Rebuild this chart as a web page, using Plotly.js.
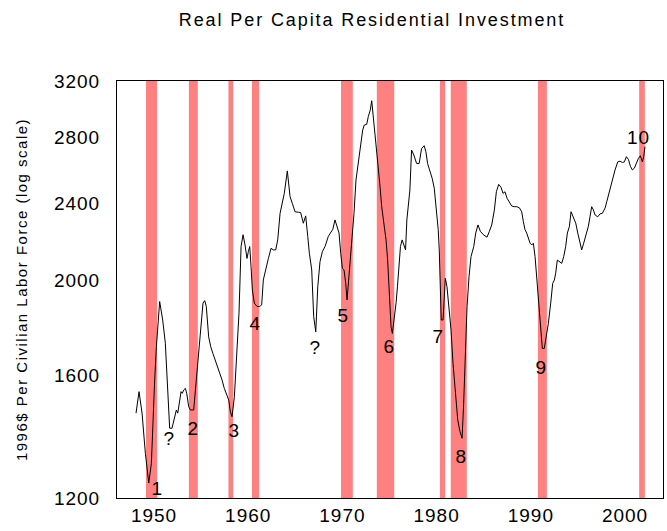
<!DOCTYPE html>
<html>
<head>
<meta charset="utf-8">
<script src="https://cdn.plot.ly/plotly-3.0.1.min.js"></script>
<style>
  body { margin: 0; background: #fff; }
  #graph { width: 667px; height: 531px; }
  /* the original uses loosely spaced type */
  #graph .gtitle { letter-spacing: 1.9px; }
  #graph .ytitle { letter-spacing: 1.5px; }
  #graph .xtick text, #graph .ytick text { letter-spacing: 1px; }
  #graph .annotation-text { letter-spacing: 1px; }
</style>
</head>
<body>
<div id="graph"></div>
<script>
// real per capita residential investment, 1996$
var years = [
  1948.09, 1948.41, 1948.73, 1949.08, 1949.44, 1949.72, 1950.07, 1950.25, 1950.60, 1950.92,
  1951.20, 1951.45, 1951.66, 1951.91, 1952.16, 1952.37, 1952.52, 1952.65, 1952.87, 1953.00,
  1953.15, 1953.33, 1953.47, 1953.68, 1953.86, 1954.21, 1954.50, 1954.74, 1954.99, 1955.20,
  1955.38, 1955.55, 1955.80, 1956.02, 1956.26, 1956.51, 1956.86, 1957.22, 1957.46, 1957.75,
  1957.93, 1958.10, 1958.28, 1958.53, 1958.81, 1959.02, 1959.24, 1959.45, 1959.66, 1959.87,
  1960.01, 1960.16, 1960.30, 1960.44, 1960.65, 1960.93, 1961.22, 1961.43, 1961.60, 1961.85,
  1962.14, 1962.42, 1962.66, 1962.92, 1963.13, 1963.38, 1963.55, 1963.83, 1964.15, 1964.44,
  1964.68, 1964.97, 1965.32, 1965.57, 1965.85, 1966.10, 1966.32, 1966.49, 1966.74, 1966.95,
  1967.17, 1967.38, 1967.62, 1967.87, 1968.15, 1968.50, 1968.72, 1968.97, 1969.21, 1969.43,
  1969.64, 1969.82, 1969.99, 1970.17, 1970.35, 1970.49, 1970.73, 1970.99, 1971.23, 1971.44,
  1971.62, 1971.83, 1971.97, 1972.15, 1972.32, 1972.58, 1972.75, 1972.96, 1973.11, 1973.32,
  1973.53, 1973.75, 1973.96, 1974.17, 1974.38, 1974.63, 1974.80, 1974.98, 1975.16, 1975.30,
  1975.51, 1975.70, 1975.84, 1975.98, 1976.16, 1976.34, 1976.52, 1976.70, 1976.84, 1976.98,
  1977.16, 1977.34, 1977.58, 1977.87, 1978.15, 1978.40, 1978.68, 1978.86, 1979.04, 1979.25,
  1979.53, 1979.75, 1979.96, 1980.17, 1980.28, 1980.39, 1980.49, 1980.68, 1980.82, 1980.92,
  1981.10, 1981.32, 1981.53, 1981.74, 1981.99, 1982.24, 1982.48, 1982.70, 1982.87, 1983.05,
  1983.23, 1983.44, 1983.65, 1983.94, 1984.15, 1984.39, 1984.64, 1984.96, 1985.35, 1985.60,
  1985.85, 1986.13, 1986.34, 1986.59, 1986.84, 1987.05, 1987.26, 1987.47, 1987.69, 1987.97,
  1988.22, 1988.50, 1988.78, 1989.03, 1989.21, 1989.38, 1989.56, 1989.74, 1989.92, 1990.10,
  1990.27, 1990.45, 1990.66, 1990.87, 1991.08, 1991.22, 1991.43, 1991.65, 1991.86, 1992.11,
  1992.32, 1992.50, 1992.64, 1992.81, 1993.02, 1993.28, 1993.49, 1993.70, 1993.88, 1994.09,
  1994.27, 1994.51, 1994.77, 1994.98, 1995.22, 1995.40, 1995.61, 1995.86, 1996.10, 1996.28,
  1996.46, 1996.64, 1996.82, 1997.10, 1997.35, 1997.59, 1997.88, 1998.06, 1998.23, 1998.48,
  1998.70, 1998.94, 1999.23, 1999.47, 1999.72, 1999.93, 2000.14, 2000.36, 2000.57, 2000.78,
  2000.99, 2001.20, 2001.42, 2001.63, 2001.84, 2001.98, 2002.12
];
var invest = [
  1465, 1541, 1465, 1333, 1243, 1302, 1584, 1713, 1905, 1824,
  1727, 1523, 1414, 1414, 1453, 1476, 1465, 1488, 1541, 1535,
  1547, 1553, 1535, 1488, 1476, 1476, 1584, 1685, 1810, 1898,
  1909, 1883, 1753, 1713, 1685, 1660, 1621, 1584, 1553, 1523,
  1511, 1470, 1453, 1523, 1685, 1853, 2168, 2229, 2176, 2108,
  2142, 2168, 2067, 1957, 1898, 1883, 1883, 1890, 2004, 2060,
  2108, 2159, 2151, 2151, 2202, 2344, 2390, 2457, 2590, 2438,
  2400, 2353, 2350, 2348, 2290, 2330, 2220, 2134, 2052, 1838,
  1774, 1972, 2092, 2142, 2168, 2220, 2238, 2256, 2308, 2272,
  2238, 2134, 2060, 2052, 1988, 1912, 2036, 2202, 2344, 2535,
  2618, 2689, 2763, 2851, 2885, 2890, 2944, 2990, 3055, 2919,
  2775, 2657, 2516, 2381, 2308, 2202, 2100, 1940, 1795, 1767,
  1824, 1900, 1972, 2052, 2168, 2202, 2176, 2151, 2308, 2400,
  2476, 2720, 2689, 2636, 2636, 2730, 2748, 2710, 2636, 2596,
  2545, 2486, 2381, 2256, 2151, 2004, 1824, 1824, 1927, 2012,
  1972, 1883, 1781, 1647, 1523, 1442, 1403, 1381, 1499, 1713,
  1883, 2020, 2117, 2168, 2238, 2281, 2247, 2229, 2216, 2247,
  2281, 2363, 2466, 2509, 2492, 2457, 2466, 2429, 2409, 2385,
  2381, 2381, 2375, 2353, 2298, 2256, 2238, 2206, 2185, 2176,
  2185, 2117, 1988, 1868, 1753, 1706, 1706, 1753, 1810, 1898,
  1988, 2004, 2036, 2100, 2092, 2084, 2117, 2168, 2238, 2272,
  2353, 2325, 2290, 2238, 2193, 2151, 2185, 2229, 2272, 2325,
  2381, 2363, 2335, 2325, 2341, 2344, 2373, 2409, 2447, 2495,
  2545, 2596, 2646, 2650, 2642, 2646, 2678, 2661, 2618, 2596,
  2607, 2636, 2667, 2684, 2646, 2678, 2742
];

// recession bands
var recStart = [1949.15, 1953.70, 1957.90, 1960.40, 1969.85, 1973.65, 1980.35, 1981.50, 1990.75, 2001.50];
var recEnd   = [1950.32, 1954.65, 1958.40, 1961.15, 1971.10, 1975.50, 1980.90, 1983.20, 1991.70, 2002.10];

// labels next to the troughs
var labelText  = ['1', '?', '2', '3', '4', '?', '5', '6', '7', '8', '9', '10'];
var labelYear  = [1950.40, 1951.62, 1954.17, 1958.53, 1960.80, 1967.12, 1970.10, 1975.02, 1980.18, 1982.63, 1991.16, 2001.42];
var labelValue = [1227, 1381, 1414, 1408, 1810, 1708, 1842, 1713, 1753, 1322, 1632, 2799];

var yTicks = [1200, 1600, 2000, 2400, 2800, 3200];
var xTicks = [1950, 1960, 1970, 1980, 1990, 2000];

var shapes = [];
for (var i = 0; i < recStart.length; i++) {
  shapes.push({
    type: 'rect', xref: 'x', yref: 'paper',
    x0: recStart[i], x1: recEnd[i], y0: 0, y1: 1,
    fillcolor: 'rgb(255,128,128)', line: { width: 0 }, layer: 'below'
  });
}

var annotations = [];
for (var j = 0; j < labelText.length; j++) {
  annotations.push({
    x: labelYear[j], y: Math.log10(labelValue[j]),
    xref: 'x', yref: 'y',
    text: labelText[j], showarrow: false,
    font: { family: 'Liberation Sans, Arial, sans-serif', size: 19, color: '#000' }
  });
}

var data = [{
  x: years,
  y: invest,
  type: 'scatter',
  mode: 'lines',
  line: { color: '#000', width: 1 },
  hoverinfo: 'x+y'
}];

var layout = {
  width: 667,
  height: 531,
  margin: { l: 117, r: 4, t: 81, b: 33 },
  paper_bgcolor: '#fff',
  plot_bgcolor: 'rgba(0,0,0,0)',
  showlegend: false,
  font: { family: 'Liberation Sans, Arial, sans-serif', color: '#000' },
  title: {
    text: 'Real Per Capita Residential Investment',
    font: { size: 18, color: '#000' },
    xref: 'paper', x: 0.467, xanchor: 'center',
    yref: 'container', y: 0.962, yanchor: 'middle'
  },
  xaxis: {
    range: [1946.07, 2004.03],
    tickvals: xTicks,
    ticks: '',
    showgrid: false,
    zeroline: false,
    showline: true,
    mirror: true,
    linecolor: '#000',
    linewidth: 1,
    tickfont: { size: 19 }
  },
  yaxis: {
    type: 'log',
    range: [Math.log10(1200), Math.log10(3200)],
    tickvals: yTicks,
    ticktext: yTicks.map(String),
    ticks: '',
    showgrid: false,
    zeroline: false,
    showline: true,
    mirror: true,
    linecolor: '#000',
    linewidth: 1,
    ticklabelstandoff: 12,
    tickfont: { size: 19 },
    title: { text: '1996$ Per Civilian Labor Force (log scale)', font: { size: 15 }, standoff: 26 }
  },
  shapes: shapes,
  annotations: annotations
};

Plotly.newPlot('graph', data, layout, { displayModeBar: false, staticPlot: true });
</script>
</body>
</html>
